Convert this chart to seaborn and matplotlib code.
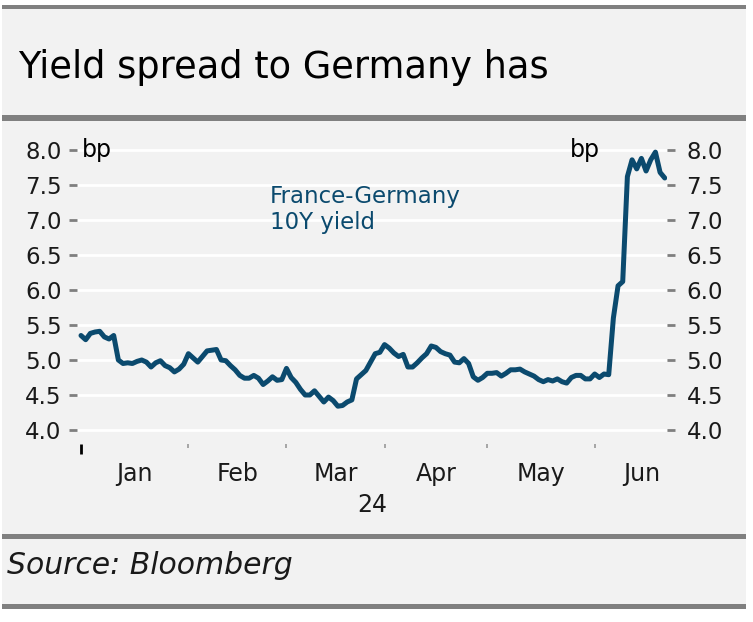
import numpy as np
import pandas as pd
import matplotlib
matplotlib.use("Agg")
import matplotlib.pyplot as plt
import matplotlib.patches as mpatches
import seaborn as sns

# ---------------- data ----------------
dates = pd.bdate_range("2024-01-01", "2024-06-24")  # business days
spread = [
    5.35, 5.29, 5.38, 5.40, 5.41, 5.33, 5.30, 5.35, 5.00, 4.95,
    4.96, 4.95, 4.98, 5.00, 4.97, 4.90, 4.96, 4.99, 4.92, 4.89,
    4.83, 4.87, 4.94, 5.09, 5.03, 4.97, 5.05, 5.13, 5.14, 5.15,
    5.00, 4.99, 4.92, 4.86, 4.78, 4.74, 4.74, 4.78, 4.74, 4.65,
    4.70, 4.76, 4.71, 4.72, 4.88, 4.75, 4.68, 4.58, 4.50, 4.50,
    4.56, 4.48, 4.40, 4.47, 4.42, 4.34, 4.35, 4.40, 4.43, 4.73,
    4.79, 4.85, 4.97, 5.09, 5.11, 5.22, 5.17, 5.10, 5.05, 5.08,
    4.90, 4.90, 4.96, 5.03, 5.09, 5.20, 5.18, 5.12, 5.09, 5.07,
    4.97, 4.96, 5.02, 4.95, 4.76, 4.71, 4.75, 4.81, 4.81, 4.82,
    4.77, 4.81, 4.86, 4.86, 4.87, 4.83, 4.80, 4.77, 4.72, 4.69,
    4.72, 4.70, 4.73, 4.69, 4.67, 4.75, 4.78, 4.78, 4.73, 4.73,
    4.80, 4.75, 4.80, 4.79, 5.60, 6.06, 6.12, 7.62, 7.86, 7.73,
    7.88, 7.70, 7.86, 7.97, 7.68, 7.60,
]
months = ["Jan", "Feb", "Mar", "Apr", "May", "Jun"]
month_starts = ["2024-01-01", "2024-02-01", "2024-03-01", "2024-04-01",
                "2024-05-01", "2024-06-03", "2024-07-01"]
yticks = [4.0, 4.5, 5.0, 5.5, 6.0, 6.5, 7.0, 7.5, 8.0]

title = "Yield spread to Germany has"
source = "Source: Bloomberg"
series_label = "France-Germany\n10Y yield"
unit = "bp"
year_label = "24"

# ---------------- styling ----------------
sns.set_theme(style="white")
plt.rcParams["font.family"] = ["DejaVu Sans"]

LINE = "#0b4a6e"
BG = "#f2f2f2"
BAR = "#808080"
TICK = "#7f7f7f"
TXT = "#1a1a1a"

W, H = 753, 622
fig = plt.figure(figsize=(W / 100, H / 100), dpi=100, facecolor="white")

def fx(px):
    return px / W

def fy(py):
    return 1 - py / H

# panel background and gray rules (behind the axes)
fig.patches.append(mpatches.Rectangle((fx(2), fy(609)), fx(746 - 2), (609 - 5) / H,
                                      transform=fig.transFigure, facecolor=BG,
                                      edgecolor="none", zorder=-3))
for top, bot in [(5, 9), (115, 121), (534, 539), (604, 609)]:
    fig.patches.append(mpatches.Rectangle((fx(2), fy(bot)), fx(746 - 2), (bot - top) / H,
                                          transform=fig.transFigure, facecolor=BAR,
                                          edgecolor="none", zorder=-2))

fig.text(fx(18), fy(67), title, fontsize=26.5, color="black", ha="left", va="center")
fig.text(fx(7), fy(565), source, fontsize=21.5, style="italic", color=TXT,
         ha="left", va="center")

# axes
ax_left, ax_right = 77, 667
ax_top, ax_bot = 140, 444
ax = fig.add_axes([fx(ax_left), fy(ax_bot), fx(ax_right - ax_left), (ax_bot - ax_top) / H])
ax.set_facecolor("none")

idx = np.arange(len(dates))
df = pd.DataFrame({"i": idx, "spread": spread})
sns.lineplot(data=df, x="i", y="spread", ax=ax, color=LINE, linewidth=3.6,
             solid_joinstyle="round", solid_capstyle="round")

px_per_day = 4.67
x0 = (ax_left - 81) / px_per_day
x1 = x0 + (ax_right - ax_left) / px_per_day
ax.set_xlim(x0, x1)
ylim = (4.0 - (ax_bot - 430) / 70, 8.0 + (150 - ax_top) / 70)
ax.set_ylim(*ylim)

for s in ax.spines.values():
    s.set_visible(False)

ax.set_yticks(yticks)
ax.set_yticklabels([f"{v:.1f}" for v in yticks])
ax.yaxis.grid(True, color="white", linewidth=2)
ax.xaxis.grid(False)
ax.set_axisbelow(True)

# right-hand axis
axr = ax.twinx()
axr.set_ylim(*ylim)
axr.set_yticks(yticks)
axr.set_yticklabels([f"{v:.1f}" for v in yticks])
for s in axr.spines.values():
    s.set_visible(False)
axr.grid(False)

ax.tick_params(axis="y", which="major", left=True, right=False, labelleft=True,
               labelright=False, length=6, width=2, color=TICK,
               labelsize=16.5, labelcolor=TXT, pad=5)
axr.tick_params(axis="y", which="major", right=True, left=False, labelright=True,
                labelleft=False, length=6, width=2, color=TICK,
                labelsize=16.5, labelcolor=TXT, pad=8)

# x axis: month-start ticks, labels centred in months
bd = pd.DatetimeIndex(dates).values.astype("datetime64[D]")
starts = [int(np.busday_count(bd[0], np.datetime64(d))) for d in month_starts]
ax.set_xticks(starts[:-1])
ax.set_xticklabels([])
mids = [(a + b) / 2 for a, b in zip(starts[:-1], starts[1:])]
ax.set_xticks(mids, minor=True)
ax.set_xticklabels(months, minor=True)
ax.tick_params(axis="x", which="major", bottom=True, length=3, width=1.2,
               color="#999999", direction="out")
ax.tick_params(axis="x", which="minor", bottom=True, length=0, pad=13,
               labelsize=17, labelcolor=TXT)
first = ax.xaxis.get_major_ticks()[0]
first.tick1line.set_markersize(7)
first.tick1line.set_markeredgewidth(2)
first.tick1line.set_markeredgecolor("black")
ax.set_xlabel(year_label, fontsize=17, color=TXT, labelpad=5)
ax.set_ylabel("")
axr.set_ylabel("")

# annotations
ax.text((82 - 81) / px_per_day, 8.0, unit, fontsize=17, color="black",
        ha="left", va="center")
ax.text((600 - 81) / px_per_day, 8.0, unit, fontsize=17, color="black",
        ha="right", va="center")
ax.text((270 - 81) / px_per_day, 4 + (430 - 185) / 70, series_label, fontsize=16.5,
        color=LINE, ha="left", va="top", linespacing=1.15)

fig.savefig("out.png", dpi=100, facecolor="white")
